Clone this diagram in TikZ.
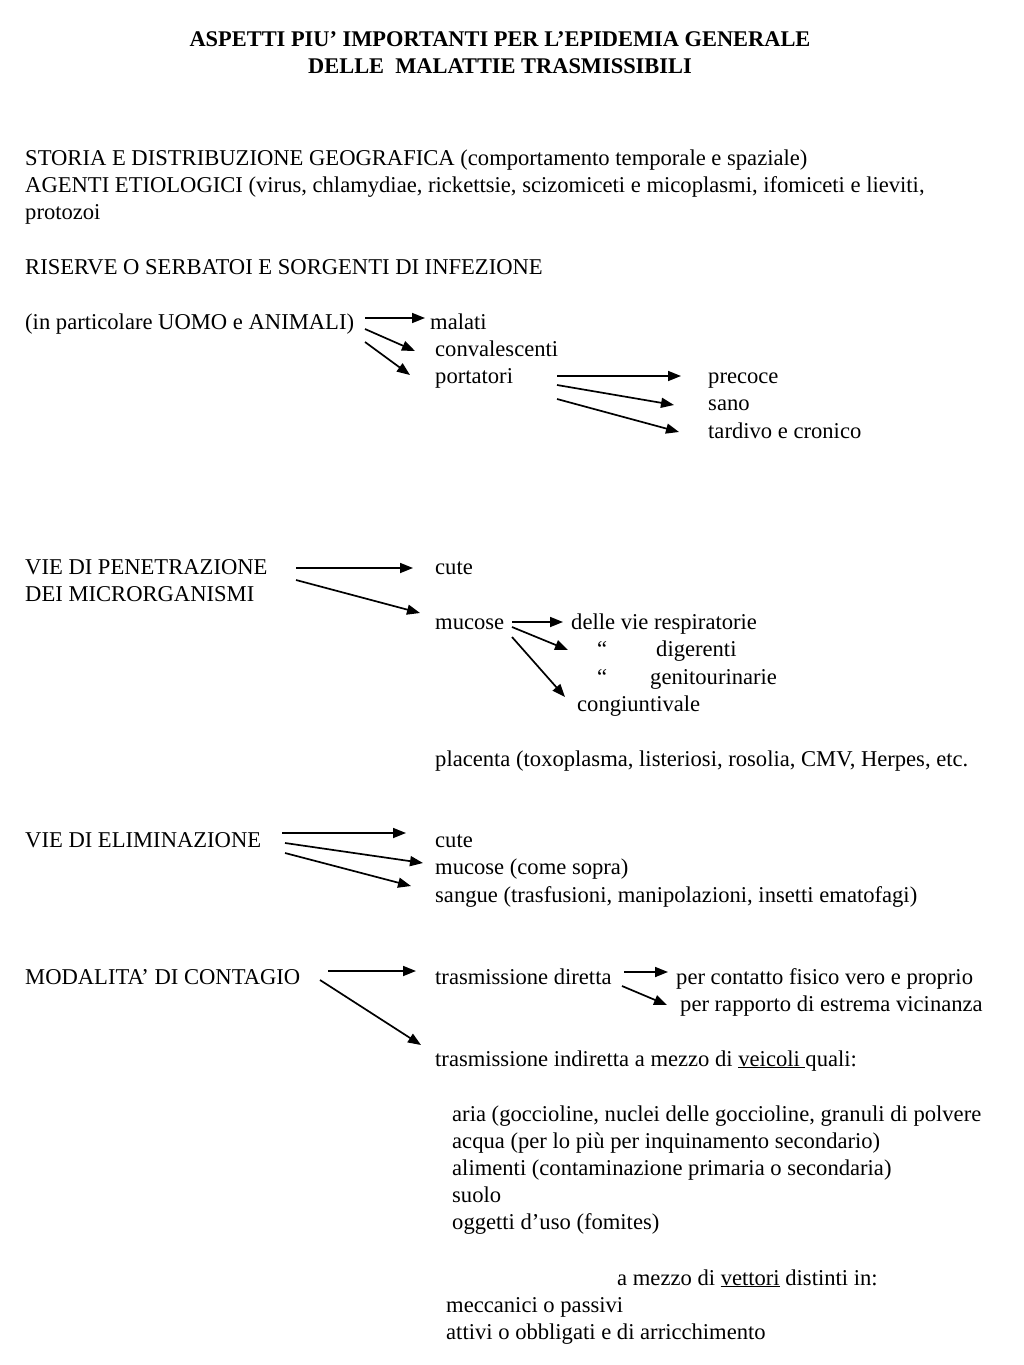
\documentclass[tikz,border=0pt]{standalone}
\usepackage{fontspec}
\setmainfont{LiberationSerif}[Extension=.ttf,UprightFont=*-Regular,BoldFont=*-Bold,ItalicFont=*-Italic,BoldItalicFont=*-BoldItalic]
\usetikzlibrary{arrows.meta}
\begin{document}
\begin{tikzpicture}[x=1pt,y=-1pt,
  txt/.style={anchor=base west,inner sep=0pt,font=\fontsize{22.6}{27}\selectfont},
  ttl/.style={anchor=base,inner sep=0pt,font=\fontsize{22.4}{27}\selectfont\bfseries},
  arr/.style={-{Triangle[length=13pt,width=10pt]},line width=1.7pt}]
\useasboundingbox (0,0) rectangle (1024,1365);
% title
\node[ttl] (t1) at (500,46) {ASPETTI PIU’ IMPORTANTI PER L’EPIDEMIA GENERALE};
\node[ttl] (t2) at (500,73) {DELLE\ \ MALATTIE TRASMISSIBILI};
% intro
\node[txt] (storia) at (25,165) {STORIA E DISTRIBUZIONE GEOGRAFICA (comportamento temporale e spaziale)};
\node[txt] (agenti) at (25,192) {AGENTI ETIOLOGICI (virus, chlamydiae, rickettsie, scizomiceti e micoplasmi, ifomiceti e lieviti,};
\node[txt] (protozoi) at (25,219) {protozoi};
\node[txt] (riserve) at (25,274) {RISERVE O SERBATOI E SORGENTI DI INFEZIONE};
\node[txt] (uomo) at (25,329) {(in particolare UOMO e ANIMALI)};
\node[txt] (malati) at (430,329) {malati};
\node[txt] (conv) at (435,356) {convalescenti};
\node[txt] (port) at (435,383) {portatori};
\node[txt] (prec) at (708,383) {precoce};
\node[txt] (sano) at (708,410) {sano};
\node[txt] (tard) at (708,438) {tardivo e cronico};
\coordinate (u1) at (365,318); \coordinate (u1e) at (425,318);
\coordinate (u2) at (365,329); \coordinate (u2e) at (415,351);
\coordinate (u3) at (365,342); \coordinate (u3e) at (410,375);
\draw[arr] (u1) -- (u1e);
\draw[arr] (u2) -- (u2e);
\draw[arr] (u3) -- (u3e);
\coordinate (p1) at (557,376); \coordinate (p1e) at (681,376);
\coordinate (p2) at (557,385); \coordinate (p2e) at (674,405);
\coordinate (p3) at (557,399); \coordinate (p3e) at (679,432);
\draw[arr] (p1) -- (p1e);
\draw[arr] (p2) -- (p2e);
\draw[arr] (p3) -- (p3e);
% penetrazione
\node[txt] (pen) at (25,574) {VIE DI PENETRAZIONE};
\node[txt] (micro) at (25,601) {DEI MICRORGANISMI};
\node[txt] (cute1) at (435,574) {cute};
\node[txt] (muc1) at (435,629) {mucose};
\node[txt] (resp) at (571,629) {delle vie respiratorie};
\node[txt] (q1) at (597,656) {“};
\node[txt] (dig) at (656,656) {digerenti};
\node[txt] (q2) at (597,684) {“};
\node[txt] (gen) at (650,684) {genitourinarie};
\node[txt] (cong) at (577,711) {congiuntivale};
\node[txt] (plac) at (435,766) {placenta (toxoplasma, listeriosi, rosolia, CMV, Herpes, etc.};
\coordinate (v1) at (296,568); \coordinate (v1e) at (413,568);
\coordinate (v2) at (296,580); \coordinate (v2e) at (420,613);
\draw[arr] (v1) -- (v1e);
\draw[arr] (v2) -- (v2e);
\coordinate (m1) at (512,622); \coordinate (m1e) at (563,622);
\coordinate (m2) at (512,627); \coordinate (m2e) at (568,650);
\coordinate (m3) at (512,637); \coordinate (m3e) at (565,697);
\draw[arr] (m1) -- (m1e);
\draw[arr] (m2) -- (m2e);
\draw[arr] (m3) -- (m3e);
% eliminazione
\node[txt] (elim) at (25,847) {VIE DI ELIMINAZIONE};
\node[txt] (cute2) at (435,847) {cute};
\node[txt] (muc2) at (435,874) {mucose (come sopra)};
\node[txt] (sang) at (435,902) {sangue (trasfusioni, manipolazioni, insetti ematofagi)};
\coordinate (e1) at (282,833); \coordinate (e1e) at (406,833);
\coordinate (e2) at (285,843); \coordinate (e2e) at (423,863);
\coordinate (e3) at (285,853); \coordinate (e3e) at (411,886);
\draw[arr] (e1) -- (e1e);
\draw[arr] (e2) -- (e2e);
\draw[arr] (e3) -- (e3e);
% contagio
\node[txt] (mod) at (25,984) {MODALITA’ DI CONTAGIO};
\node[txt] (dir) at (435,984) {trasmissione diretta};
\node[txt] (fis) at (676,984) {per contatto fisico vero e proprio};
\node[txt] (vic) at (680,1011) {per rapporto di estrema vicinanza};
\node[txt] (ind) at (435,1066) {trasmissione indiretta a mezzo di \underline{veicoli }quali:};
\node[txt] (aria) at (452,1121) {aria (goccioline, nuclei delle goccioline, granuli di polvere};
\node[txt] (acqua) at (452,1148) {acqua (per lo più per inquinamento secondario)};
\node[txt] (alim) at (452,1175) {alimenti (contaminazione primaria o secondaria)};
\node[txt] (suolo) at (452,1202) {suolo};
\node[txt] (ogg) at (452,1229) {oggetti d’uso (fomites)};
\node[txt] (vett) at (617,1285) {a mezzo di \underline{vettori} distinti in:};
\node[txt] (mecc) at (446,1312) {meccanici o passivi};
\node[txt] (att) at (446,1339) {attivi o obbligati e di arricchimento};
\coordinate (c1) at (328,971); \coordinate (c1e) at (416,971);
\coordinate (c2) at (320,980); \coordinate (c2e) at (421,1045);
\draw[arr] (c1) -- (c1e);
\draw[arr] (c2) -- (c2e);
\coordinate (d1) at (624,972); \coordinate (d1e) at (668,972);
\coordinate (d2) at (622,986); \coordinate (d2e) at (667,1005);
\draw[arr] (d1) -- (d1e);
\draw[arr] (d2) -- (d2e);
\end{tikzpicture}
\end{document}
